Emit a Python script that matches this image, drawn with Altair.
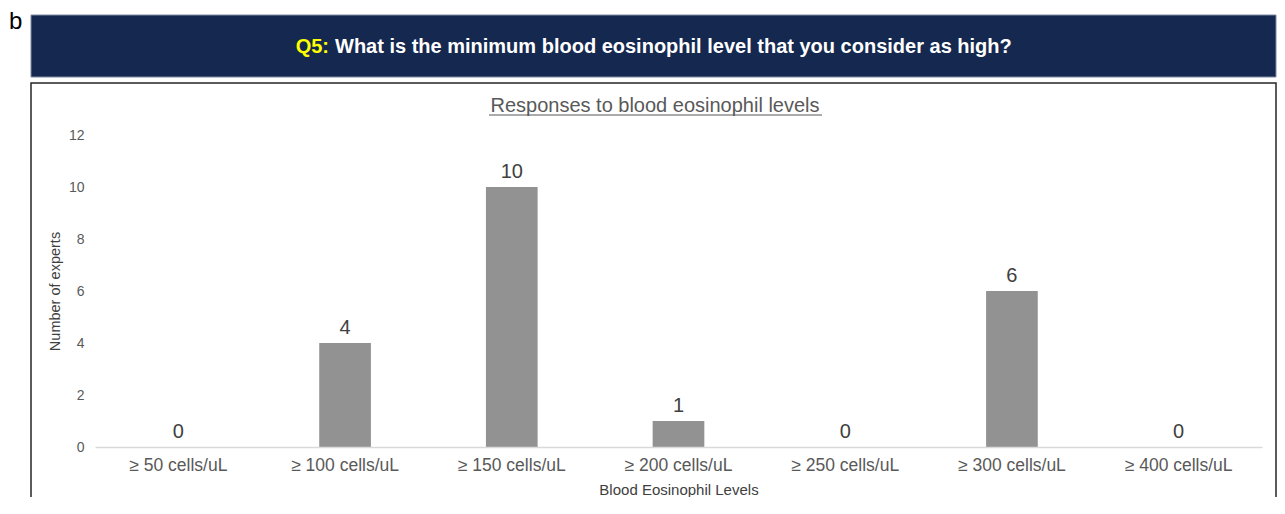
import altair as alt
import pandas as pd

categories = ["≥ 50 cells/uL", "≥ 100 cells/uL", "≥ 150 cells/uL", "≥ 200 cells/uL",
              "≥ 250 cells/uL", "≥ 300 cells/uL", "≥ 400 cells/uL"]
counts = [0, 4, 10, 1, 0, 6, 0]
y_ticks = [0, 2, 4, 6, 8, 10, 12]

df = pd.DataFrame({"level": categories, "n": counts})

FONT = "Liberation Sans"
one = alt.Data(values=[{"k": 1}])

x_enc = alt.X("level:N", sort=categories,
              scale=alt.Scale(paddingInner=0.69, paddingOuter=0.345),
              axis=alt.Axis(title="Blood Eosinophil Levels", labelAngle=0,
                            labelFontSize=17.5, labelColor="#595959", labelPadding=9,
                            titleFontSize=15, titleFontWeight="normal", titleColor="#404040",
                            titlePadding=9, ticks=False, domainColor="#d9d9d9",
                            domainWidth=1.5, grid=False, zindex=1))
y_enc = alt.Y("n:Q", scale=alt.Scale(domain=[0, 12]),
              axis=alt.Axis(title="Number of experts", values=y_ticks, labelFontSize=14,
                            labelColor="#595959", labelPadding=11, ticks=False, domain=False,
                            grid=False, titleFontSize=14.5, titleFontWeight="normal",
                            titleColor="#404040", titlePadding=6, zindex=1))

box = alt.Chart(one).mark_rect(fill="white", stroke="#262626", strokeWidth=1.5).encode(
    x=alt.value(-64), x2=alt.value(1181), y=alt.value(-52), y2=alt.value(420))
banner = alt.Chart(one).mark_rect(fill="#15284f", stroke="#7f8aa0", strokeWidth=1).encode(
    x=alt.value(-64), x2=alt.value(1181), y=alt.value(-120), y2=alt.value(-58))
q_label = alt.Chart(one).mark_text(text="Q5:", font=FONT, fontSize=20, fontWeight="bold",
                                   color="#ffff00", align="right", baseline="middle").encode(
    x=alt.value(234), y=alt.value(-88))
q_text = alt.Chart(one).mark_text(
    text="What is the minimum blood eosinophil level that you consider as high?",
    font=FONT, fontSize=20, fontWeight="bold", color="white", align="left",
    baseline="middle").encode(x=alt.value(240), y=alt.value(-88))
b_label = alt.Chart(one).mark_text(text="b", font=FONT, fontSize=24, color="black",
                                   align="left", baseline="middle").encode(
    x=alt.value(-86), y=alt.value(-113))
title = alt.Chart(one).mark_text(text="Responses to blood eosinophil levels", font=FONT,
                                 fontSize=20, color="#595959", align="center",
                                 baseline="middle").encode(
    x=alt.value(560), y=alt.value(-29))
underline = alt.Chart(one).mark_rule(color="#595959", strokeWidth=1.2).encode(
    x=alt.value(394), x2=alt.value(727), y=alt.value(-20))

bars = alt.Chart(df).mark_bar(color="#929292").encode(x=x_enc, y=y_enc)
labels = alt.Chart(df).mark_text(font=FONT, fontSize=20, color="#404040",
                                 baseline="alphabetic", dy=-9).encode(
    x=alt.X("level:N", sort=categories), y="n:Q", text="n:Q")

chart = alt.layer(box, banner, q_label, q_text, b_label, title, underline, bars, labels).properties(
    width=1167, height=312,
    padding={"left": 87, "top": 127, "right": 15, "bottom": 50},
    autosize=alt.AutoSizeParams(type="none"),
).configure_view(stroke=None).configure_axis(labelFont=FONT, titleFont=FONT)

chart.save("out.html", embed_options={"renderer": "svg", "actions": False})
